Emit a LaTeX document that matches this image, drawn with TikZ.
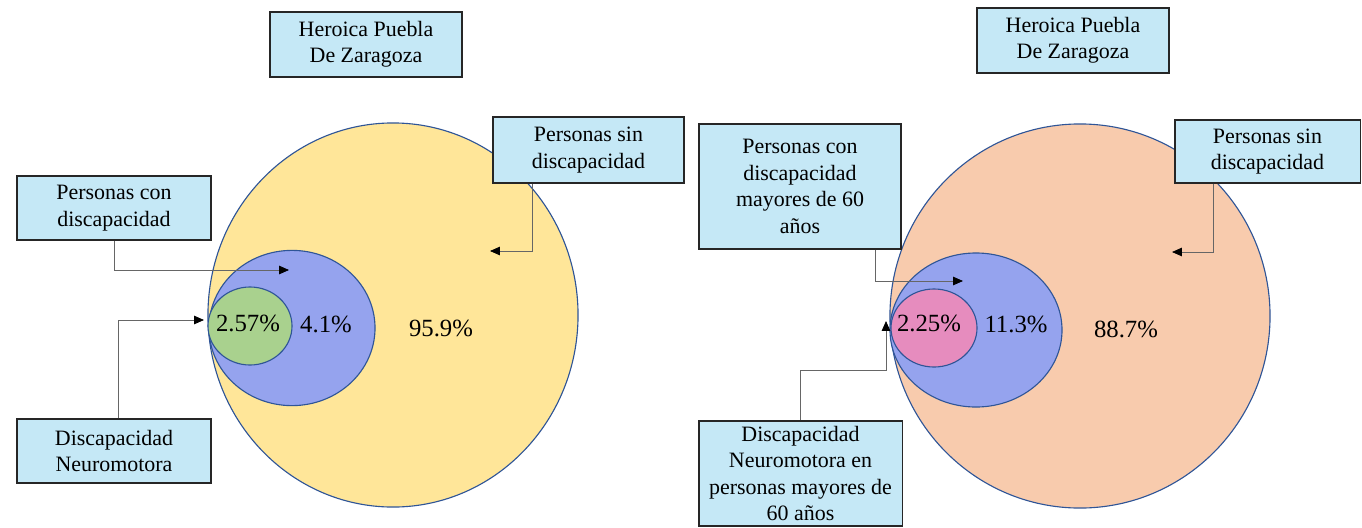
\documentclass[tikz,border=0pt]{standalone}
\usepackage{fontspec}
\setmainfont{Liberation Serif}
\newfontfamily\fuenteromana{Liberation Serif}
\usetikzlibrary{arrows.meta}

\definecolor{cajaazul}{HTML}{C5E8F6}
\definecolor{borde}{HTML}{2F5597}
\definecolor{amarillo}{HTML}{FFE699}
\definecolor{lila}{HTML}{95A3EE}
\definecolor{verde}{HTML}{A9D18E}
\definecolor{durazno}{HTML}{F8CBAD}
\definecolor{rosa}{HTML}{E68CBE}

\begin{document}
\begin{tikzpicture}[x=0.025cm,y=-0.025cm,
    caja/.style={draw=black!85,line width=0.9pt,fill=cajaazul,align=center,inner sep=1pt,
                 font=\fuenteromana\fontsize{15.6}{18.8}\selectfont},
    elipse/.style={draw=borde,line width=0.8pt},
    pct/.style={font=\fuenteromana\fontsize{17.6}{20}\selectfont},
    flecha/.style={draw=black!60,line width=0.6pt,
                   -{Triangle[length=7pt,width=6pt,color=black]}}]
                    \useasboundingbox (0,0) rectangle (1362,527);

                    % conjuntos, izquierda
                    \filldraw[elipse,fill=amarillo] (393,315) ellipse [x radius=4.625cm,y radius=4.8cm];
                    \filldraw[elipse,fill=lila] (292,328) ellipse [x radius=2.075cm,y radius=1.94cm];
                    \filldraw[elipse,fill=verde] (250,326) ellipse [x radius=1.05cm,y radius=0.975cm];

                    % conjuntos, derecha
                    \filldraw[elipse,fill=durazno] (1080,316) ellipse [x radius=4.75cm,y radius=4.8cm];
                    \filldraw[elipse,fill=lila] (976,330) ellipse [x radius=2.15cm,y radius=1.925cm];
                    \filldraw[elipse,fill=rosa] (934,328) ellipse [x radius=1.075cm,y radius=0.975cm];

                    \path
                    (248,323) node[pct](p1) {2.57\%}
                    (326,324) node[pct](p2) {4.1\%}
                    (441,328) node[pct](p3) {95.9\%}
                    (929,323) node[pct](p4) {2.25\%}
                    (1016,324) node[pct](p5) {11.3\%}
                    (1126,329) node[pct](p6) {88.7\%};

                    \path
                    (366,44.5) node[caja,minimum width=4.8cm,minimum height=1.63cm](tit1) {Heroica Puebla\\De Zaragoza}
                    (114,208) node[caja,minimum width=4.85cm,minimum height=1.6cm](pcd1) {Personas con\\discapacidad}
                    (114,451) node[caja,minimum width=4.85cm,minimum height=1.6cm](dn1) {Discapacidad\\Neuromotora}
                    (588.5,150) node[caja,minimum width=4.78cm,minimum height=1.65cm](psin1) {Personas sin\\discapacidad}
                    (1073,40.5) node[caja,minimum width=4.8cm,minimum height=1.63cm](tit2) {Heroica Puebla\\De Zaragoza}
                    (800,186.5) node[caja,minimum width=5.05cm,minimum height=3.125cm](pcd2) {Personas con\\discapacidad\\mayores de 60\\años}
                    (800.5,473.5) node[caja,minimum width=5.08cm,minimum height=2.63cm](dn2) {Discapacidad\\Neuromotora en\\personas mayores de\\60 años}
                    (1267.5,151.5) node[caja,minimum width=4.63cm,minimum height=1.58cm](psin2) {Personas sin\\discapacidad};

                    \coordinate (t1) at (289,270);
                    \coordinate (t2) at (204,320);
                    \coordinate (t3) at (490,251);
                    \coordinate (t4) at (963,281);
                    \coordinate (t5) at (886,321);
                    \coordinate (t6) at (1172,252);

                    \draw[flecha] (pcd1.south) |- (t1);
                    \draw[flecha] ([xshift=0.1cm]dn1.north) |- (t2);
                    \draw[flecha] ([xshift=-1.4cm]psin1.south) |- (t3);
                    \draw[flecha] ([xshift=1.875cm]pcd2.south) |- (t4);
                    \draw[flecha] (dn2.north) |- ([yshift=-1.225cm]t5) -- (t5);
                    \draw[flecha] ([xshift=-1.34cm]psin2.south) |- (t6);
                \end{tikzpicture}
\end{document}
